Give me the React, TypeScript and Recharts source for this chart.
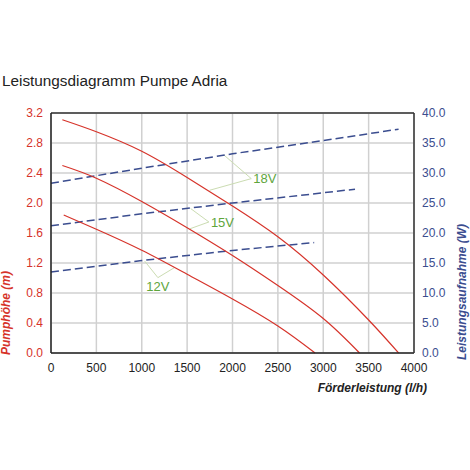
import React from "react";
import {
  LineChart,
  Line,
  XAxis,
  YAxis,
  CartesianGrid,
  ReferenceLine,
  ReferenceDot,
} from "recharts";

// pump head curves (m) per voltage
const flow18 = [125, 500, 1000, 1500, 2000, 2500, 3000, 3500, 3830];
const head18 = [3.11, 2.95, 2.69, 2.34, 1.96, 1.55, 1.04, 0.44, 0];
const flow15 = [125, 500, 1000, 1500, 2000, 2500, 3000, 3400];
const head15 = [2.5, 2.33, 2.02, 1.67, 1.3, 0.9, 0.46, 0];
const flow12 = [140, 500, 1000, 1500, 2000, 2500, 2910];
const head12 = [1.84, 1.65, 1.37, 1.05, 0.72, 0.36, 0];

// power draw (W) per voltage
const powerFlow18 = [0, 1000, 2000, 3000, 3830];
const watt18 = [28.3, 30.8, 33.2, 35.4, 37.3];
const powerFlow15 = [0, 1000, 2000, 3000, 3350];
const watt15 = [21.2, 23.2, 25.0, 26.7, 27.3];
const powerFlow12 = [0, 1000, 2000, 2900];
const watt12 = [13.5, 15.4, 17.1, 18.4];

const flowTicks = [0, 500, 1000, 1500, 2000, 2500, 3000, 3500, 4000];
const headTicks = [0, 0.4, 0.8, 1.2, 1.6, 2.0, 2.4, 2.8, 3.2];
const wattTicks = [0, 5, 10, 15, 20, 25, 30, 35, 40];

// callouts: [label, point on power line, vertex, point on head curve] in (l/h, m)
const callouts: [string, number[], number[], number[]][] = [
  ["18V", [1905, 2.64], [2207, 2.325], [1748, 2.17]],
  ["15V", [1539, 1.926], [1740, 1.747], [1528, 1.655]],
  ["12V", [1032, 1.226], [1178, 1.005], [1362, 1.14]],
];

const toRows = (q: number[], v: number[]) => q.map((x, i) => ({ q: x, v: v[i] }));

const RED = "#d6332a";
const BLUE = "#3b4d8f";
const GREEN = "#5ea53c";
const CALLOUT = "#cbdcb2";
const FONT = "'Liberation Sans', Arial, sans-serif";

const heads = [
  { name: "18V", rows: toRows(flow18, head18) },
  { name: "15V", rows: toRows(flow15, head15) },
  { name: "12V", rows: toRows(flow12, head12) },
];
const powers = [
  { name: "P18V", rows: toRows(powerFlow18, watt18) },
  { name: "P15V", rows: toRows(powerFlow15, watt15) },
  { name: "P12V", rows: toRows(powerFlow12, watt12) },
];

export default function App() {
  return (
    <div style={{ position: "absolute", left: 0, top: 0, width: 470, height: 470, background: "#fff" }}>
      <LineChart
        width={470}
        height={470}
        margin={{ top: 113, right: 0, bottom: 87, left: 0 }}
        style={{ fontFamily: FONT }}
      >
        <CartesianGrid yAxisId="left" stroke="#d0d0d0" strokeWidth={1.5} ticks={headTicks} />
        <XAxis
          type="number"
          dataKey="q"
          domain={[0, 4000]}
          ticks={flowTicks}
          height={30}
          tickLine={false}
          tickMargin={4}
          axisLine={{ stroke: "#222", strokeWidth: 1.5 }}
          tick={{ fill: "#222", fontSize: 12 }}
          allowDuplicatedCategory={false}
        />
        <YAxis
          yAxisId="left"
          width={51}
          domain={[0, 3.2]}
          ticks={headTicks}
          tickFormatter={(v: number) => v.toFixed(1)}
          tickLine={false}
          axisLine={{ stroke: "#222", strokeWidth: 1.5 }}
          tick={{ fill: RED, fontSize: 12 }}
        />
        <YAxis
          yAxisId="right"
          orientation="right"
          width={56}
          domain={[0, 40]}
          ticks={wattTicks}
          tickFormatter={(v: number) => v.toFixed(1)}
          tickLine={false}
          axisLine={{ stroke: "#333", strokeWidth: 1.5 }}
          tick={{ fill: BLUE, fontSize: 12 }}
        />
        <ReferenceLine yAxisId="left" y={3.2} stroke="#333" strokeWidth={1.5} />

        {callouts.map(([name, a, b]) => (
          <ReferenceLine
            key={name + "a"}
            yAxisId="left"
            segment={[{ x: a[0], y: a[1] }, { x: b[0], y: b[1] }]}
            stroke={CALLOUT}
            strokeWidth={1}
          />
        ))}
        {callouts.map(([name, , b, c]) => (
          <ReferenceLine
            key={name + "c"}
            yAxisId="left"
            segment={[{ x: c[0], y: c[1] }, { x: b[0], y: b[1] }]}
            stroke={CALLOUT}
            strokeWidth={1}
          />
        ))}

        {powers.map((s) => (
          <Line
            key={s.name}
            yAxisId="right"
            data={s.rows}
            dataKey="v"
            type="linear"
            stroke={BLUE}
            strokeWidth={1.5}
            strokeDasharray="8 4"
            dot={false}
            isAnimationActive={false}
          />
        ))}
        {heads.map((s) => (
          <Line
            key={s.name}
            yAxisId="left"
            data={s.rows}
            dataKey="v"
            type="natural"
            stroke={RED}
            strokeWidth={1.2}
            dot={false}
            isAnimationActive={false}
          />
        ))}

        {callouts.map(([name, , b]) => (
          <ReferenceDot
            key={name + "l"}
            yAxisId="left"
            x={b[0]}
            y={b[1]}
            r={0}
            fill="none"
            stroke="none"
            label={{
              value: name,
              position: name === "12V" ? "bottom" : "right",
              offset: name === "12V" ? 4 : 2,
              fill: GREEN,
              fontSize: 13,
              fontFamily: FONT,
            }}
          />
        ))}
      </LineChart>

      <svg
        width={470}
        height={470}
        style={{ position: "absolute", left: 0, top: 0, pointerEvents: "none", fontFamily: FONT }}
      >
        <text x={2} y={86} fontSize={15.3} fill="#222">
          Leistungsdiagramm Pumpe Adria
        </text>
        <text
          x={9.5}
          y={313}
          transform="rotate(-90 9.5 313)"
          textAnchor="middle"
          fontSize={12}
          fontWeight="bold"
          fontStyle="italic"
          fill={RED}
        >
          Pumphöhe (m)
        </text>
        <text
          x={465.5}
          y={292}
          transform="rotate(-90 465.5 292)"
          textAnchor="middle"
          fontSize={12}
          fontWeight="bold"
          fontStyle="italic"
          fill={BLUE}
        >
          Leistungsaufnahme (W)
        </text>
        <text x={427} y={392} textAnchor="end" fontSize={12} fontWeight="bold" fontStyle="italic" fill="#222">
          Förderleistung (l/h)
        </text>
      </svg>
    </div>
  );
}
